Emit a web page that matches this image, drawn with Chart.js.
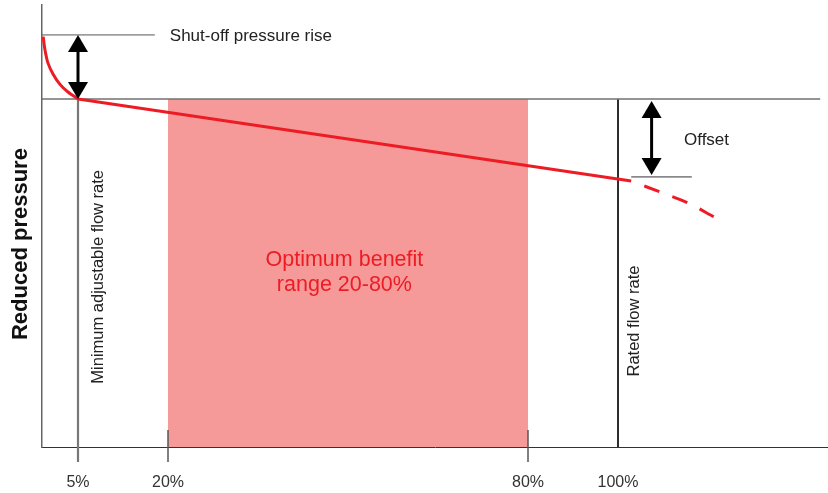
<!DOCTYPE html>
<html>
<head>
  <meta charset="utf-8">
  <title>Reduced pressure vs flow rate</title>
  <script src="https://cdn.jsdelivr.net/npm/chart.js"></script>
  <style>
    html, body { margin: 0; padding: 0; background: #fff; }
    #wrap { width: 828px; height: 493px; }
  </style>
</head>
<body>
  <div id="wrap"><canvas id="prvChart"></canvas></div>

  <script>
    // x positions in drawing units, labels shown under them
    const tickPos = [5, 20, 80, 95];
    const tickLabels = ['5%', '20%', '80%', '100%'];

    // pressure curve (y: 100 = set pressure)
    const riseX = [-0.8, -0.5, 0, 0.83, 2.0, 3.33, 5];
    const riseY = [117.9, 114.1, 110.3, 107.2, 104.2, 102.0, 100];
    const droopX = [5, 97.2];
    const droopY = [100, 76.4];
    const overX = [97.2, 102, 106.7, 111];
    const overY = [76.4, 73.3, 70.1, 66.1];

    const setLevel = 100;
    const shutOffLevel = 118.4;
    const offsetLevel = 77.6;
    const minFlow = 5;
    const ratedFlow = 95;
    const rangeFrom = 20;
    const rangeTo = 80;

    const RED = '#ed1c24';
    const FONT = '"Liberation Sans", Arial, sans-serif';
    const pts = (xs, ys) => xs.map((x, i) => ({ x: x, y: ys[i] }));

    function seg(x1, y1, x2, y2, color, width) {
      return {
        data: [{ x: x1, y: y1 }, { x: x2, y: y2 }],
        showLine: true, borderColor: color, borderWidth: width,
        pointRadius: 0, clip: false
      };
    }

    function arrow(ctx, x, yTop, yBot) {
      const hw = 10, hh = 17;
      ctx.save();
      ctx.fillStyle = '#000';
      ctx.strokeStyle = '#000';
      ctx.lineWidth = 3;
      ctx.beginPath();
      ctx.moveTo(x, yTop + hh - 2);
      ctx.lineTo(x, yBot - hh + 2);
      ctx.stroke();
      ctx.beginPath();
      ctx.moveTo(x, yTop); ctx.lineTo(x - hw, yTop + hh); ctx.lineTo(x + hw, yTop + hh);
      ctx.closePath(); ctx.fill();
      ctx.beginPath();
      ctx.moveTo(x, yBot); ctx.lineTo(x - hw, yBot - hh); ctx.lineTo(x + hw, yBot - hh);
      ctx.closePath(); ctx.fill();
      ctx.restore();
    }

    function vText(ctx, txt, x, y) {
      ctx.save();
      ctx.translate(x, y);
      ctx.rotate(-Math.PI / 2);
      ctx.textAlign = 'center';
      ctx.fillText(txt, 0, 0);
      ctx.restore();
    }

    const notes = {
      id: 'notes',
      afterDatasetsDraw(chart) {
        const ctx = chart.ctx;
        const xs = chart.scales.x, ys = chart.scales.y;
        const px = v => xs.getPixelForValue(v);
        const py = v => ys.getPixelForValue(v);

        arrow(ctx, px(minFlow), py(shutOffLevel), py(setLevel));
        arrow(ctx, px(100.6), py(setLevel) + 2, py(offsetLevel) - 2);

        ctx.save();
        ctx.fillStyle = '#222';
        ctx.textBaseline = 'middle';
        ctx.textAlign = 'left';
        ctx.font = '17px ' + FONT;
        ctx.fillText('Shut-off pressure rise', px(20.3), py(shutOffLevel) + 1.5);
        ctx.fillText('Offset', px(106), py(88.2));

        ctx.font = '16.5px ' + FONT;
        vText(ctx, 'Minimum adjustable flow rate', px(minFlow) + 20, py(48.9));
        vText(ctx, 'Rated flow rate', px(ratedFlow) + 16, py(36.2));

        ctx.font = 'bold 22px ' + FONT;
        ctx.fillStyle = '#111';
        vText(ctx, 'Reduced pressure', 21, py(58.3));

        ctx.fillStyle = RED;
        ctx.font = '21.5px ' + FONT;
        ctx.textAlign = 'center';
        ctx.fillText('Optimum benefit', px(49.4), py(53.7));
        ctx.fillText('range 20-80%', px(49.4), py(46.5));
        ctx.restore();
      }
    };

    new Chart(document.getElementById('prvChart'), {
      type: 'scatter',
      data: {
        datasets: [
          // pressure curve
          { data: pts(riseX, riseY), showLine: true, borderColor: RED, borderWidth: 3,
            pointRadius: 0, tension: 0.3, clip: false },
          seg(droopX[0], droopY[0], droopX[1], droopY[1], RED, 3),
          { data: pts(overX, overY), showLine: true, borderColor: RED, borderWidth: 3,
            pointRadius: 0, tension: 0.3, borderDash: [16, 14], borderDashOffset: 16 },
          // reference lines
          seg(-1, setLevel, 128.7, setLevel, '#707070', 1.5),
          seg(-1, shutOffLevel, 17.8, shutOffLevel, '#555', 1),
          seg(97.2, offsetLevel, 107.3, offsetLevel, '#333', 1),
          seg(minFlow, setLevel, minFlow, -4.3, '#777', 2.2),
          seg(ratedFlow, setLevel, ratedFlow, 0, '#111', 1),
          seg(rangeFrom, 4.9, rangeFrom, -4.3, '#555', 1.5),
          seg(rangeTo, 4.9, rangeTo, -4.3, '#555', 1.5),
          // optimum range block
          { data: [{ x: rangeFrom, y: setLevel }, { x: rangeTo, y: setLevel }], showLine: true,
            borderWidth: 0, borderColor: 'rgba(0,0,0,0)', backgroundColor: '#f59a99',
            fill: 'origin', pointRadius: 0 }
        ]
      },
      options: {
        responsive: true,
        maintainAspectRatio: false,
        animation: false,
        layout: { padding: { top: 5, left: 0, right: 0, bottom: 0 } },
        plugins: { legend: { display: false }, tooltip: { enabled: false } },
        scales: {
          x: {
            type: 'linear', min: -1, max: 130,
            afterBuildTicks: s => { s.ticks = tickPos.map(v => ({ value: v })); },
            afterFit: s => { s.height = 46; },
            grid: { display: false, drawTicks: false },
            border: { color: '#333', width: 1 },
            ticks: {
              padding: 26, color: '#333', maxRotation: 0, autoSkip: false,
              font: { family: FONT, size: 16 },
              callback: v => tickLabels[tickPos.indexOf(v)]
            }
          },
          y: {
            type: 'linear', min: 0, max: 127,
            afterFit: s => { s.width = 42; },
            grid: { display: false, drawTicks: false },
            border: { color: '#666', width: 1.5 },
            ticks: { display: false }
          }
        }
      },
      plugins: [notes]
    });
  </script>
</body>
</html>
